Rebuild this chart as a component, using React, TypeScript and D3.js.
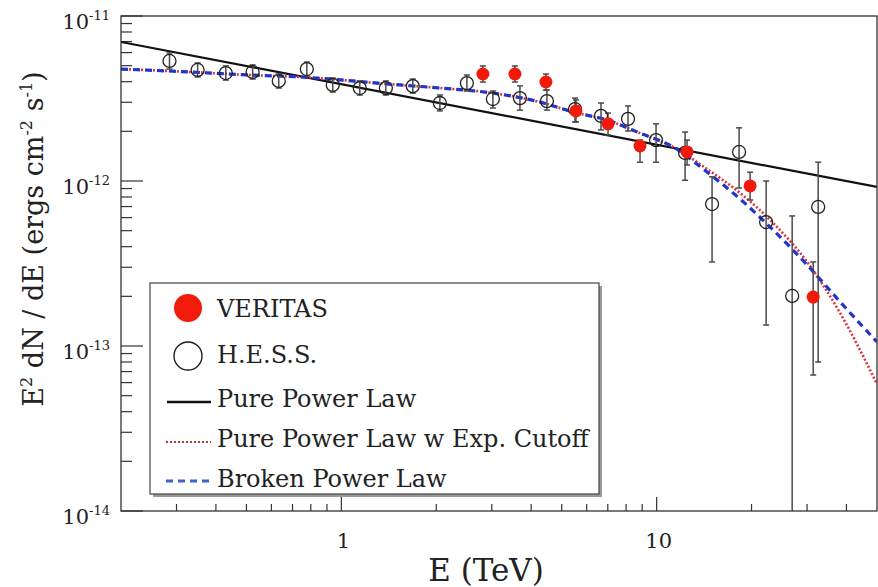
import React from "react";
import * as d3 from "d3";

// Flux values in units of 1e-12 erg cm^-2 s^-1
const hessE = [0.285, 0.35, 0.43, 0.523, 0.633, 0.777, 0.939, 1.144, 1.384, 1.685, 2.053, 2.501, 3.024, 3.685, 4.488, 5.508, 6.661, 8.114, 9.957, 12.31, 14.99, 18.26, 22.25, 26.91, 32.54];
const hessF = [5.34, 4.71, 4.51, 4.58, 4.04, 4.77, 3.82, 3.66, 3.66, 3.76, 2.97, 3.92, 3.14, 3.18, 3.05, 2.73, 2.48, 2.38, 1.77, 1.48, 0.725, 1.5, 0.564, 0.201, 0.696];
const hessLo = [4.77, 4.27, 4.09, 4.15, 3.66, 4.33, 3.46, 3.32, 3.32, 3.41, 2.66, 3.51, 2.77, 2.69, 2.69, 2.28, 2.04, 2.01, 1.3, 1.01, 0.323, 0.907, 0.134, 0.001, 0.08];
const hessHi = [5.97, 5.19, 4.98, 5.05, 4.45, 5.26, 4.21, 4.04, 4.04, 4.15, 3.32, 4.39, 3.51, 3.77, 3.56, 3.18, 2.97, 2.85, 2.22, 1.98, 1.06, 2.1, 1.0, 0.614, 1.3];

const veritasE = [2.811, 3.552, 4.455, 5.548, 7.012, 8.857, 12.49, 19.79, 31.37];
const veritasF = [4.45, 4.45, 3.98, 2.66, 2.22, 1.63, 1.5, 0.933, 0.198];
const veritasLo = [3.98, 3.98, 3.56, 2.28, 1.9, 1.3, 1.25, 0.767, 0.0667];
const veritasHi = [4.98, 4.98, 4.45, 3.1, 2.58, 1.77, 1.77, 1.13, 0.323];

const powerE = [0.2, 50];
const powerF = [6.96, 0.92];

const curveE = [0.2, 0.285, 0.512, 0.739, 1.532, 2.053, 3.024, 4.264, 5.427, 6.96, 8.857, 11.27, 14.45, 18.4, 23.41, 30.02, 38.21, 50];
const cutoffF = [4.77, 4.64, 4.39, 4.27, 3.82, 3.66, 3.41, 3.01, 2.62, 2.34, 1.95, 1.61, 1.182, 0.846, 0.557, 0.323, 0.158, 0.0588];
const brokenF = [4.77, 4.64, 4.39, 4.27, 3.82, 3.66, 3.41, 3.01, 2.62, 2.34, 1.95, 1.61, 1.134, 0.778, 0.505, 0.31, 0.185, 0.1057];

const xMajor = [1, 10];
const xMajorLabels = ["1", "10"];
const yMajor = [10, 1, 0.1, 0.01];
const yMajorExp = ["-11", "-12", "-13", "-14"];

const legendLabels = ["VERITAS", "H.E.S.S.", "Pure Power Law", "Pure Power Law w Exp. Cutoff", "Broken Power Law"];

const FONT = "'DejaVu Serif', serif";

export default function App() {
  const L = 121, R = 877, T = 16, B = 511;
  const x = d3.scaleLog().domain([0.2, 50]).range([L, R]);
  const y = d3.scaleLog().domain([0.01, 10]).range([B, T]);

  const xMinor: number[] = [];
  [0.1, 1, 10].forEach((dec) => {
    for (let k = 2; k <= 9; k++) {
      const v = dec * k;
      if (v > 0.2 && v < 50) xMinor.push(v);
    }
  });
  const yMinor: number[] = [];
  [0.01, 0.1, 1].forEach((dec) => {
    for (let k = 2; k <= 9; k++) yMinor.push(dec * k);
  });

  const line = d3
    .line<[number, number]>()
    .x((d) => x(d[0]))
    .y((d) => y(d[1]))
    .curve(d3.curveMonotoneX);

  const powerPts = powerE.map((e, i) => [e, powerF[i]] as [number, number]);
  const cutoffPts = curveE.map((e, i) => [e, cutoffF[i]] as [number, number]);
  const brokenPts = curveE.map((e, i) => [e, brokenF[i]] as [number, number]);

  const clampY = (v: number) => Math.min(B, Math.max(T, y(v)));

  const errBar = (e: number, lo: number, hi: number, key: string) => {
    const cx = x(e);
    const y1 = clampY(lo);
    const y2 = clampY(hi);
    return (
      <g key={key} stroke="#4a4a4a" strokeWidth={1.5}>
        <line x1={cx} x2={cx} y1={y1} y2={y2} />
        {y1 < B && <line x1={cx - 3} x2={cx + 3} y1={y1} y2={y1} />}
        <line x1={cx - 3} x2={cx + 3} y1={y2} y2={y2} />
      </g>
    );
  };

  const lg = { x: 150, y: 283, w: 449, h: 211 };

  return (
    <svg
      width={878}
      height={587}
      style={{ position: "absolute", left: 0, top: 0, background: "#fff" }}
      fontFamily={FONT}
    >
      <defs>
        <clipPath id="plotclip">
          <rect x={L} y={T} width={R - L} height={B - T} />
        </clipPath>
      </defs>
      <rect x={0} y={0} width={878} height={587} fill="#fff" />

      {/* axes ticks */}
      <g stroke="#333" strokeWidth={1.2}>
        {xMajor.map((v) => (
          <line key={"xM" + v} x1={x(v)} x2={x(v)} y1={B} y2={B - 14} />
        ))}
        {xMinor.map((v) => (
          <line key={"xm" + v} x1={x(v)} x2={x(v)} y1={B} y2={B - 7} />
        ))}
        {yMajor.map((v) => (
          <line key={"yM" + v} x1={L} x2={L + 22} y1={y(v)} y2={y(v)} />
        ))}
        {yMinor.map((v) => (
          <line key={"ym" + v} x1={L} x2={L + 11} y1={y(v)} y2={y(v)} />
        ))}
      </g>

      {/* curves */}
      <g clipPath="url(#plotclip)" fill="none">
        <path d={line(powerPts) || ""} stroke="#111" strokeWidth={2.2} />
        <path d={line(cutoffPts) || ""} stroke="#e0303a" strokeWidth={2.6} strokeDasharray="2,2" />
        <path d={line(brokenPts) || ""} stroke="#1f36cc" strokeWidth={3.2} strokeDasharray="7,5" />
      </g>

      {/* data */}
      <g clipPath="url(#plotclip)">
        {hessE.map((e, i) => errBar(e, hessLo[i], hessHi[i], "he" + i))}
        {veritasE.map((e, i) => errBar(e, veritasLo[i], veritasHi[i], "ve" + i))}
        {hessE.map((e, i) => (
          <circle key={"hc" + i} cx={x(e)} cy={y(hessF[i])} r={6.5} fill="none" stroke="#222" strokeWidth={1.3} />
        ))}
        {veritasE.map((e, i) => (
          <circle key={"vc" + i} cx={x(e)} cy={y(veritasF[i])} r={6.5} fill="#f21b0b" />
        ))}
      </g>

      {/* frame */}
      <rect x={L} y={T} width={R - L} height={B - T} fill="none" stroke="#333" strokeWidth={1.3} />

      {/* tick labels */}
      {xMajor.map((v, i) => (
        <text key={"xl" + v} x={x(v) + 2} y={548} fontSize={21} textAnchor="middle" fill="#222">
          {xMajorLabels[i]}
        </text>
      ))}
      {yMajor.map((v, i) => (
        <text key={"yl" + v} x={110} y={y(v) + 13} fontSize={21} textAnchor="end" fill="#222">
          10
          <tspan fontSize={13} dy={-9}>
            {yMajorExp[i]}
          </tspan>
        </text>
      ))}

      {/* axis titles */}
      <text x={486} y={581} fontSize={31} textAnchor="middle" fill="#222">
        E (TeV)
      </text>
      <text transform="translate(43,239) rotate(-90)" fontSize={27} textAnchor="middle" fill="#222">
        E<tspan fontSize={16} dy={-11}>2</tspan>
        <tspan dy={11}> dN / dE (ergs cm</tspan>
        <tspan fontSize={16} dy={-11}>-2</tspan>
        <tspan dy={11}> s</tspan>
        <tspan fontSize={16} dy={-11}>-1</tspan>
        <tspan dy={11}>)</tspan>
      </text>

      {/* legend */}
      <g>
        <rect x={lg.x + 3} y={lg.y + 3} width={lg.w} height={lg.h} fill="#9a9a9a" />
        <rect x={lg.x} y={lg.y} width={lg.w} height={lg.h} fill="#fff" stroke="#444" strokeWidth={1.2} />
        <circle cx={188} cy={308} r={14} fill="#f21b0b" />
        <circle cx={188} cy={356} r={14} fill="none" stroke="#222" strokeWidth={1.4} />
        <line x1={167} x2={211} y1={402} y2={402} stroke="#111" strokeWidth={2.5} />
        <line x1={166} x2={211} y1={442} y2={442} stroke="#b8333a" strokeWidth={2} strokeDasharray="2,2" />
        <line x1={166} x2={213} y1={481} y2={481} stroke="#3a64c8" strokeWidth={3} strokeDasharray="7,5" />
        {legendLabels.map((t, i) => (
          <text key={t} x={217} y={[317, 363, 407, 447, 487][i]} fontSize={24} fill="#222">
            {t}
          </text>
        ))}
      </g>
    </svg>
  );
}
